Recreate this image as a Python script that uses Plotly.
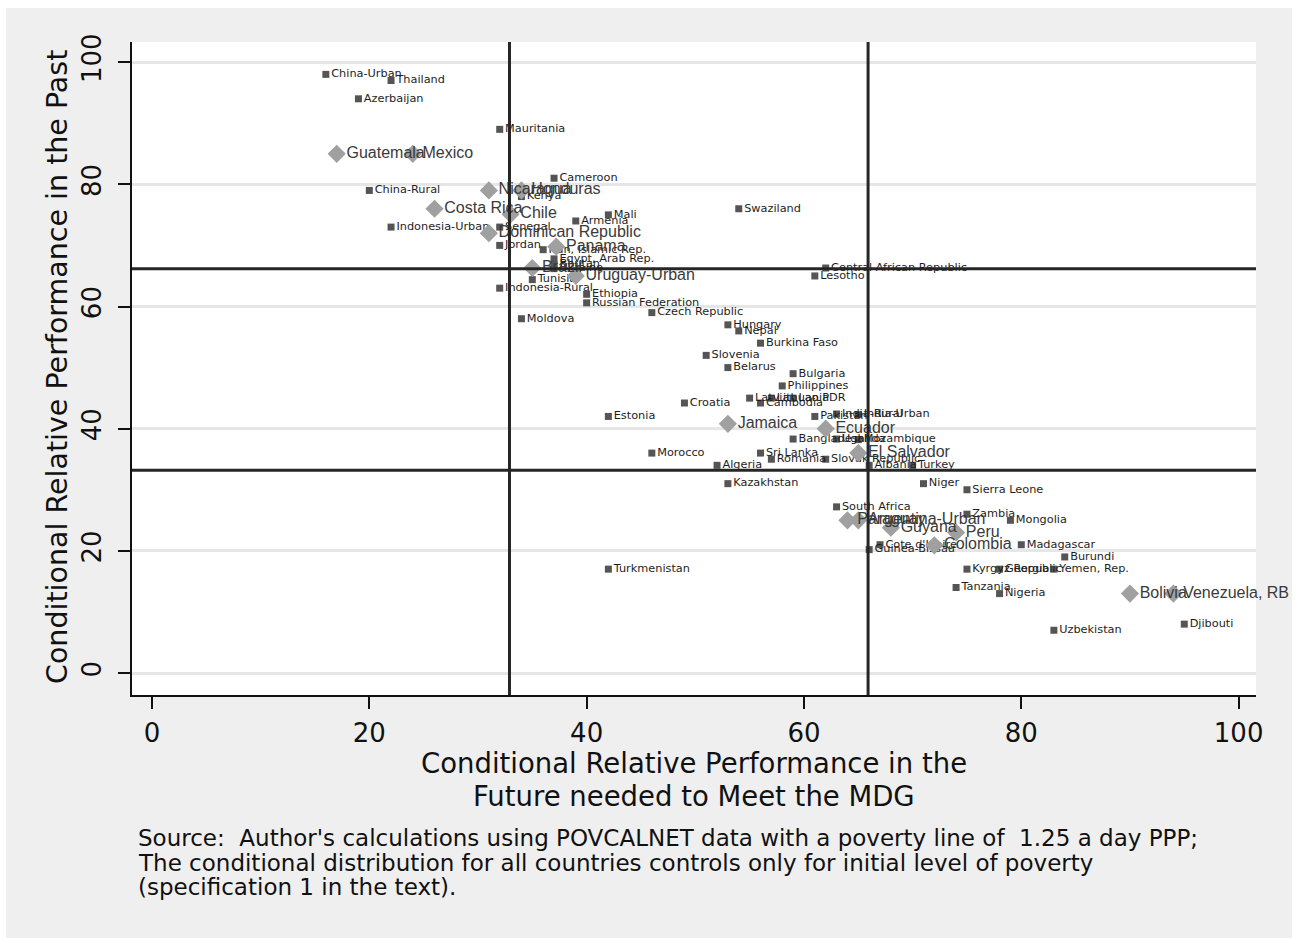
import plotly.graph_objects as go

# ---- data: countries (small square markers) ----
sq_names = ["China-Urban", "Thailand", "Azerbaijan", "Mauritania", "Cameroon", "China-Rural",
            "Kenya", "Mali", "Armenia", "Indonesia-Urban", "Senegal", "Jordan", "Swaziland",
            "Central African Republic", "Lesotho", "Iran, Islamic Rep.", "Egypt, Arab Rep.",
            "Bhutan", "Ukraine", "Tunisia", "Indonesia-Rural", "Ethiopia", "Russian Federation",
            "Moldova", "Czech Republic", "Hungary", "Nepal", "Burkina Faso", "Slovenia", "Belarus",
            "Bulgaria", "Philippines", "Latvia", "Lithuania", "Lao PDR", "Cambodia", "Croatia",
            "Estonia", "Pakistan", "India-Rural", "India-Urban", "Bangladesh", "Uganda",
            "Mozambique", "Morocco", "Sri Lanka", "Romania", "Slovak Republic", "Algeria",
            "Albania", "Turkey", "Kazakhstan", "Niger", "Sierra Leone", "South Africa", "Zambia",
            "Mongolia", "Cote d'Ivoire", "Guinea-Bissau", "Madagascar", "Burundi",
            "Kyrgyz Republic", "Georgia", "Yemen, Rep.", "Tanzania", "Nigeria", "Uzbekistan",
            "Djibouti", "Turkmenistan"]
sq_future = [16, 22, 19, 32, 37, 20,
             34, 42, 39, 22, 32, 32, 54,
             62, 61, 36, 37,
             37, 37, 35, 32, 40, 40,
             34, 46, 53, 54, 56, 51, 53,
             59, 58, 55, 57, 59, 56, 49,
             42, 61, 63, 65, 59, 63,
             65, 46, 56, 57, 62, 52,
             66, 70, 53, 71, 75, 63, 75,
             79, 67, 66, 80, 84,
             75, 78, 83, 74, 78, 83,
             95, 42]
sq_past = [98, 97, 94, 89, 81, 79,
           78, 75, 74, 73, 73, 70, 76,
           66.3, 65, 69.3, 67.8,
           66.9, 66.2, 64.4, 63, 62, 60.6,
           58, 59, 57, 56, 54, 52, 50,
           49, 47, 45, 45, 45, 44.2, 44.2,
           42, 42, 42.4, 42.3, 38.3, 38.3,
           38.2, 36, 36, 35, 35, 34,
           34, 34, 31, 31, 30, 27.2, 26,
           25, 21, 20.2, 21, 19,
           17, 17, 17, 14, 13, 7,
           8, 17]

# ---- data: Latin American countries (diamond markers) ----
la_names = ["Guatemala", "Mexico", "Nicaragua", "Honduras", "Costa Rica", "Chile",
            "Dominican Republic", "Panama", "Brazil", "Uruguay-Urban", "Jamaica", "Ecuador",
            "El Salvador", "Paraguay", "Argentina-Urban", "Guyana", "Peru", "Colombia",
            "Bolivia", "Venezuela, RB"]
la_future = [17, 24, 31, 34, 26, 33,
             31, 37.2, 35, 39, 53, 62,
             65, 64, 65, 68, 74, 72,
             90, 94]
la_past = [85, 85, 79, 79, 76, 75.1,
           72, 69.8, 66.3, 65, 40.8, 40,
           36, 25, 25, 23.8, 23, 20.9,
           13, 13]

# ---- cutoffs (terciles) ----
cut_future = [32.9, 65.9]
cut_past = [33.2, 66.2]

x_ticks = [0, 20, 40, 60, 80, 100]
y_ticks = [0, 20, 40, 60, 80, 100]

caption_lines = [
    "Source:  Author's calculations using POVCALNET data with a poverty line of  1.25 a day PPP;",
    "The conditional distribution for all countries controls only for initial level of poverty",
    "(specification 1 in the text).",
]

WIDE = "DejaVu Sans, Verdana, sans-serif"
ARIAL = "Liberation Sans, Arial, sans-serif"

fig = go.Figure()

fig.add_trace(go.Scatter(
    x=sq_future, y=sq_past, mode="markers+text", text=sq_names,
    textposition="middle right",
    textfont=dict(family=WIDE, size=11.3, color="#1e1e1e"),
    marker=dict(symbol="square", size=7, color="#555555"),
    cliponaxis=False, showlegend=False, hoverinfo="text"))

fig.add_trace(go.Scatter(
    x=la_future, y=la_past, mode="markers+text", text=la_names,
    textposition="middle right",
    textfont=dict(family=ARIAL, size=16, color="#3a3a3a"),
    marker=dict(symbol="diamond", size=14, color="#a0a0a0"),
    cliponaxis=False, showlegend=False, hoverinfo="text"))

shapes = []
for v in cut_future:
    shapes.append(dict(type="line", xref="x", yref="paper", x0=v, x1=v, y0=0, y1=1,
                       line=dict(color="#262626", width=3), layer="above"))
for v in cut_past:
    shapes.append(dict(type="line", xref="paper", yref="y", x0=0, x1=1, y0=v, y1=v,
                       line=dict(color="#262626", width=3), layer="above"))

# white outer border around the grey panel (paper coords; plot area 132..1256, 42..695)
W, H = 1298, 938
L, R, T, B = 132, 1256, 42, 695
def px(p):
    return (p - L) / (R - L)
def py(p):
    return (B - p) / (B - T)
shapes += [
    dict(type="rect", xref="paper", yref="paper", x0=px(0), x1=px(W), y0=py(0), y1=py(8),
         fillcolor="white", line=dict(width=0), layer="below"),
    dict(type="rect", xref="paper", yref="paper", x0=px(0), x1=px(6), y0=py(0), y1=py(H),
         fillcolor="white", line=dict(width=0), layer="below"),
    dict(type="rect", xref="paper", yref="paper", x0=px(1292), x1=px(W), y0=py(0), y1=py(H),
         fillcolor="white", line=dict(width=0), layer="below"),
]

annotations = [
    dict(xref="paper", yref="paper", x=0.5, y=py(763), xanchor="center", yanchor="middle",
         text="Conditional Relative Performance in the",
         showarrow=False, font=dict(family=WIDE, size=27.5, color="#111111")),
    dict(xref="paper", yref="paper", x=0.5, y=py(796), xanchor="center", yanchor="middle",
         text="Future needed to Meet the MDG",
         showarrow=False, font=dict(family=WIDE, size=27.5, color="#111111")),
    dict(xref="paper", yref="paper", x=px(57), y=py(367), xanchor="center", yanchor="middle",
         text="Conditional Relative Performance in the Past", textangle=-90,
         showarrow=False, font=dict(family=WIDE, size=28.5, color="#111111")),
]
for i, line in enumerate(caption_lines):
    annotations.append(dict(xref="paper", yref="paper", x=px(136), y=py(838 + 24.5 * i),
                            xanchor="left", yanchor="middle", align="left", text=line,
                            showarrow=False, font=dict(family=WIDE, size=23, color="#111111")))

fig.update_layout(
    width=W, height=H,
    margin=dict(l=L, r=W - R, t=T, b=H - B, pad=0),
    paper_bgcolor="#efefef", plot_bgcolor="white",
    font=dict(family=WIDE, color="#111111"),
    shapes=shapes, annotations=annotations,
    xaxis=dict(range=[-1.84, 101.6], tickvals=x_ticks, ticktext=[str(v) for v in x_ticks],
               showgrid=False, zeroline=False, showline=True, linecolor="#111111", linewidth=1.5,
               ticks="outside", ticklen=12, tickwidth=1.5, tickcolor="#111111",
               tickfont=dict(family=WIDE, size=26, color="#111111"), ticklabelstandoff=2),
    yaxis=dict(range=[-3.6, 103.3], tickvals=y_ticks, ticktext=[str(v) for v in y_ticks],
               showgrid=True, gridcolor="#e6e6e6", gridwidth=2.5, zeroline=False,
               showline=True, linecolor="#111111", linewidth=1.5,
               ticks="outside", ticklen=12, tickwidth=1.5, tickcolor="#111111", tickangle=-90,
               tickfont=dict(family=WIDE, size=26, color="#111111"), ticklabelstandoff=7),
)

fig.write_html("out.html")
